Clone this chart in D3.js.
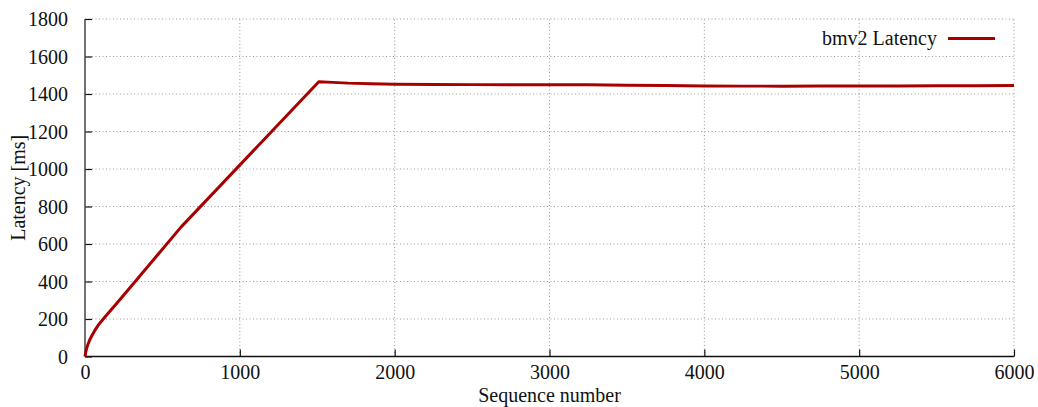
<!DOCTYPE html>
<html>
<head>
<meta charset="utf-8">
<script src="https://cdn.jsdelivr.net/npm/d3@7"></script>
<style>
  html, body { margin: 0; padding: 0; background: #fff; }
  svg { display: block; }
  text { font-family: "Liberation Serif", "Times New Roman", serif; fill: #111; }
</style>
</head>
<body>
<svg id="chart" width="1038" height="407"></svg>
<script>
// bmv2 latency per sequence number
const sequence = [0, 4, 10, 17, 30, 45, 68, 88, 110, 140, 200, 312, 620, 1510,
  1600, 1700, 1850, 2000, 2250, 2500, 2750, 3000, 3250, 3500, 3750, 4000, 4250, 4500,
  4750, 5000, 5250, 5500, 5750, 6000];
const latency = [0, 20, 42, 60, 88, 112, 145, 170, 192, 221, 279, 388, 690, 1465,
  1462, 1458, 1455, 1452, 1451, 1450, 1450, 1450, 1449, 1447, 1445, 1443, 1442, 1442,
  1443, 1443, 1443, 1444, 1444, 1445];

const xTicks = [0, 1000, 2000, 3000, 4000, 5000, 6000];
const yTicks = [0, 200, 400, 600, 800, 1000, 1200, 1400, 1600, 1800];
const seriesName = "bmv2 Latency";
const lineColor = "#a80000";

const svg = d3.select("#chart");
const margin = { left: 85, right: 1014, top: 19, bottom: 356.5 };

const x = d3.scaleLinear().domain([0, 6000]).range([margin.left, margin.right]);
const y = d3.scaleLinear().domain([0, 1800]).range([margin.bottom, margin.top]);

// dotted grid
const grid = svg.append("g");
grid.selectAll(".gx").data(xTicks.filter(d => d > 0)).enter().append("line")
  .attr("x1", d => x(d)).attr("x2", d => x(d))
  .attr("y1", y(0)).attr("y2", y(1800))
  .attr("stroke", "#9a9a9a").attr("stroke-width", 1).attr("stroke-dasharray", "1,2.5");
grid.selectAll(".gy").data(yTicks.filter(d => d > 0)).enter().append("line")
  .attr("x1", x(0)).attr("x2", x(6000))
  .attr("y1", d => y(d)).attr("y2", d => y(d))
  .attr("stroke", "#9a9a9a").attr("stroke-width", 1).attr("stroke-dasharray", "1,2.5");

// axes with inward ticks
const xAxis = d3.axisBottom(x).tickValues(xTicks).tickSize(-7).tickPadding(11).tickFormat(d3.format("d"));
const yAxis = d3.axisLeft(y).tickValues(yTicks).tickSize(-7).tickPadding(17).tickFormat(d3.format("d"));

const gx = svg.append("g").attr("transform", `translate(0,${y(0)})`).call(xAxis);
const gy = svg.append("g").attr("transform", `translate(${x(0)},0)`).call(yAxis);
[gx, gy].forEach(g => {
  g.select(".domain").remove();
  g.selectAll(".tick line").attr("stroke", "#111").attr("stroke-width", 1.2);
  g.selectAll(".tick text").attr("font-size", 20).attr("fill", "#111")
    .style("font-family", "'Liberation Serif', serif");
});
gy.selectAll(".tick text").attr("dy", "0.34em");
gx.selectAll(".tick text").attr("dy", "0.55em");

// solid left and bottom axis lines
svg.append("line").attr("x1", x(0)).attr("x2", x(0)).attr("y1", y(0)).attr("y2", y(1800))
  .attr("stroke", "#444").attr("stroke-width", 1.5);
svg.append("line").attr("x1", x(0)).attr("x2", x(6000)).attr("y1", y(0)).attr("y2", y(0))
  .attr("stroke", "#111").attr("stroke-width", 1.5);

// latency curve
const pts = sequence.map((s, i) => [s, latency[i]]);
const line = d3.line().x(d => x(d[0])).y(d => y(d[1]));
svg.append("path").datum(pts)
  .attr("d", line)
  .attr("fill", "none")
  .attr("stroke", lineColor)
  .attr("stroke-width", 3)
  .attr("stroke-linejoin", "round");

// axis titles
svg.append("text").attr("x", (margin.left + margin.right) / 2).attr("y", 402)
  .attr("text-anchor", "middle").attr("font-size", 20).text("Sequence number");
svg.append("text")
  .attr("transform", `translate(25,${(margin.top + margin.bottom) / 2}) rotate(-90)`)
  .attr("text-anchor", "middle").attr("font-size", 20).text("Latency [ms]");

// legend
svg.append("text").attr("x", 937).attr("y", 45).attr("text-anchor", "end")
  .attr("font-size", 20).text(seriesName);
svg.append("line").attr("x1", 948).attr("x2", 995).attr("y1", 38.5).attr("y2", 38.5)
  .attr("stroke", lineColor).attr("stroke-width", 3);
</script>
</body>
</html>
